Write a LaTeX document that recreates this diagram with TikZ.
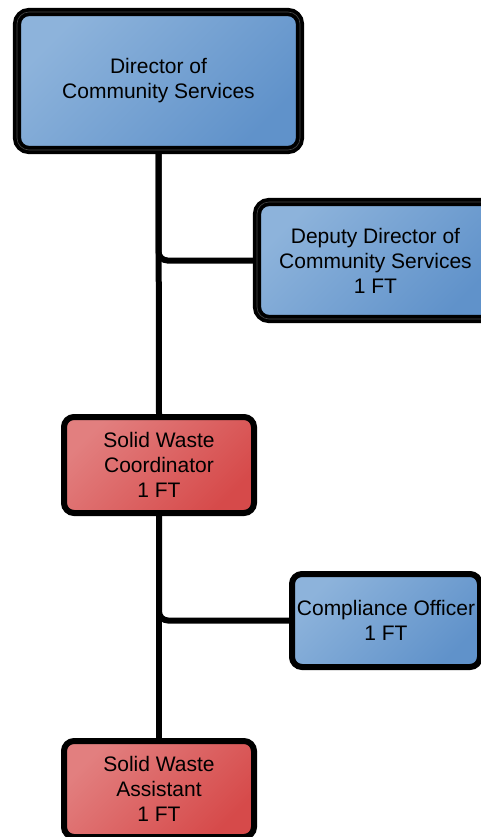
\documentclass[tikz,border=0pt]{standalone}
\usepackage{fontspec}
\setmainfont{Liberation Sans}
\definecolor{bluelight}{HTML}{8DB3DB}
\definecolor{bluedark}{HTML}{6092CA}
\definecolor{redlight}{HTML}{E27F7F}
\definecolor{reddark}{HTML}{D64A4A}
\begin{document}
\begin{tikzpicture}[x=1pt,y=-1pt,
		box/.style={draw=black,line width=6pt,rounded corners=10pt,align=center,inner sep=0pt,font=\fontsize{21}{25}\selectfont},
		bluebox/.style={box,top color=bluelight,bottom color=bluedark,shading angle=45},
		redbox/.style={box,top color=redlight,bottom color=reddark,shading angle=45},
		heavy/.style={line width=3.8pt,double=black!72,double distance=0.6pt,rounded corners=12pt},
		link/.style={line width=6pt,rounded corners=9pt}]
		\useasboundingbox (0,0) rectangle (481,837);
		\node[bluebox,heavy,minimum width=283pt,minimum height=138pt] (dir) at (158.5,81) {Director of\\Community Services};
		\node[bluebox,heavy,minimum width=237pt,minimum height=117pt] (dep) at (375.5,260.5) {Deputy Director of\\Community Services\\1 FT};
		\node[redbox,minimum width=190pt,minimum height=96pt] (coord) at (159,465) {Solid Waste\\Coordinator\\1 FT};
		\node[bluebox,minimum width=188pt,minimum height=93pt] (comp) at (386,620.5) {Compliance Officer\\1 FT};
		\node[redbox,minimum width=190pt,minimum height=96pt] (asst) at (159,789) {Solid Waste\\Assistant\\1 FT};
		\draw[link] (dir.south) -- (coord.north);
		\draw[link] (dir.south) |- (dep.west);
		\draw[link] (coord.south) -- (asst.north);
		\draw[link] (coord.south) |- (comp.west);
	\end{tikzpicture}
\end{document}
